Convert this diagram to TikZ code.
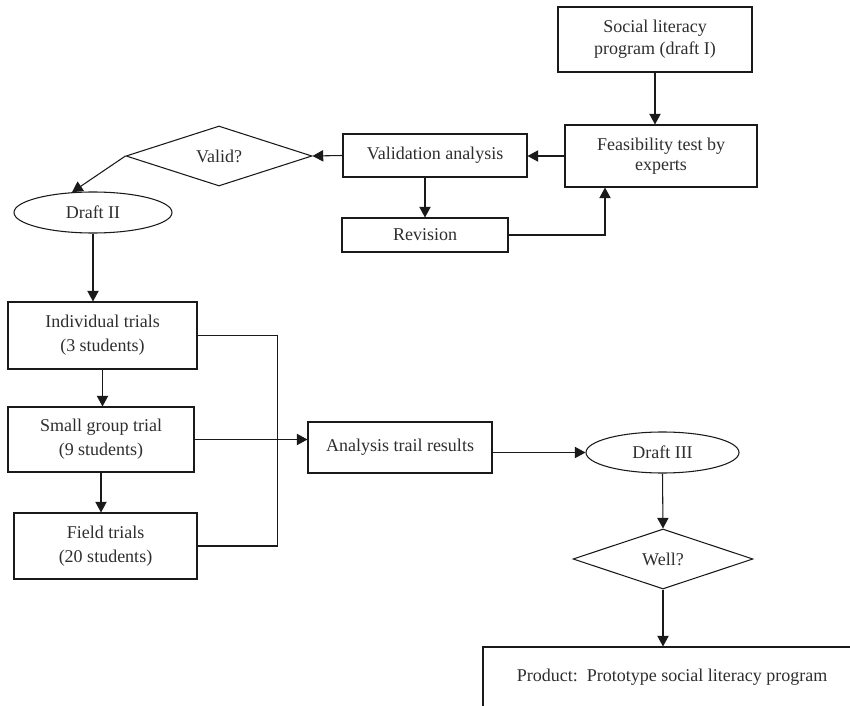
\documentclass[tikz,border=0pt]{standalone}
\usepackage{fontspec}
\setmainfont{Liberation Serif}
\usepackage{tikz}
\usetikzlibrary{shapes.geometric, calc, positioning}
\usetikzlibrary{arrows.meta}
\tikzset{>={Triangle[length=8pt,width=8.5pt]}}
\usepackage{xcolor}
\definecolor{mytext}{HTML}{2E2E2E}
\definecolor{myline}{HTML}{1A1A1A}
\tikzset{
  box/.style={draw=myline, thick, rectangle, align=center, inner sep=0pt, text=mytext,
    font=\fontsize{13.5}{16.5}\selectfont},
  oval/.style={draw=myline, thick, ellipse, inner sep=0pt, text=mytext,
    font=\fontsize{13.5}{16.5}\selectfont},
  decision/.style={draw=myline, thick, diamond, inner sep=0pt, text=mytext,
    font=\fontsize{13.5}{16.5}\selectfont},
  link/.style={draw=myline, thick}
}

\begin{document}
\begin{tikzpicture}[x=0.75pt, y=-0.75pt]
				\clip (0,0) rectangle (850,706);
				% upper part
				\node[box, minimum width=145.5pt, minimum height=48.75pt] (social) at (655,39.5) {Social literacy\\program (draft I)};
				\node[box, minimum width=144pt, minimum height=46.5pt] (feas) at (661,156) {Feasibility test by\\[-1.5pt]experts};
				\node[box, minimum width=138pt, minimum height=32.25pt] (valan) at (435,155.5) {Validation analysis};
				\node[box, minimum width=124.5pt, minimum height=25.5pt] (revision) at (425,235) {Revision};
				\node[decision, minimum width=139.5pt, minimum height=45pt] (validq) at (219,156) {Valid?};
				\node[oval, minimum width=118.5pt, minimum height=30.75pt] (draftii) at (93,212.5) {Draft II};
				% trials
				\node[box, minimum width=141.75pt, minimum height=50.25pt] (indiv) at (102.5,335.5) {Individual trials\\[1.5pt](3 students)};
				\node[box, minimum width=139.5pt, minimum height=48.75pt] (small) at (101,439.5) {Small group trial\\[1.5pt](9 students)};
				\node[box, minimum width=137.25pt, minimum height=49.5pt] (field) at (105.5,546) {Field trials\\[1.5pt](20 students)};
				\node[box, minimum width=138pt, minimum height=38.25pt] (analysis) at (400,447.5) {Analysis trail results};
				\node[oval, minimum width=114.75pt, minimum height=30.75pt] (draftiii) at (662.5,452.5) {Draft III};
				\node[decision, minimum width=135pt, minimum height=45pt] (wellq) at (663,559) {Well?};
				\node[box, minimum width=283.5pt, minimum height=45pt] (product) at (672,677) {Product:\ \ Prototype social literacy program};
				% connectors
				\draw[link, ->] (social.south) -- (social.south |- feas.north);
				\draw[link, ->] (feas.west) -- (feas.west -| valan.east);
				\draw[link, ->] (valan.west) -- (validq.east);
				\draw[link, ->] (validq.west) -- (draftii.136);
				\draw[link, ->] (valan.south -| revision.north) -- (revision.north);
				\draw[link, ->] (revision.east) -| ($(feas.south west)!0.21!(feas.south east)$);
				\draw[link, ->] (draftii.south) -- (draftii.south |- indiv.north);
				\draw[link, ->] (indiv.south) -- (indiv.south |- small.north);
				\draw[link, ->] (small.south) -- (small.south |- field.north);
				\draw[link] (indiv.east) -- ++(80,0) |- (field.east);
				\draw[link, ->] (small.east) -- (small.east -| analysis.west);
				\draw[link, ->] (analysis.east |- draftiii.west) -- (draftiii.west);
				\draw[link, ->] (draftiii.south) -- (wellq.north);
				\draw[link, ->] (wellq.south) -- (wellq.south |- product.north);
			\end{tikzpicture}
\end{document}
